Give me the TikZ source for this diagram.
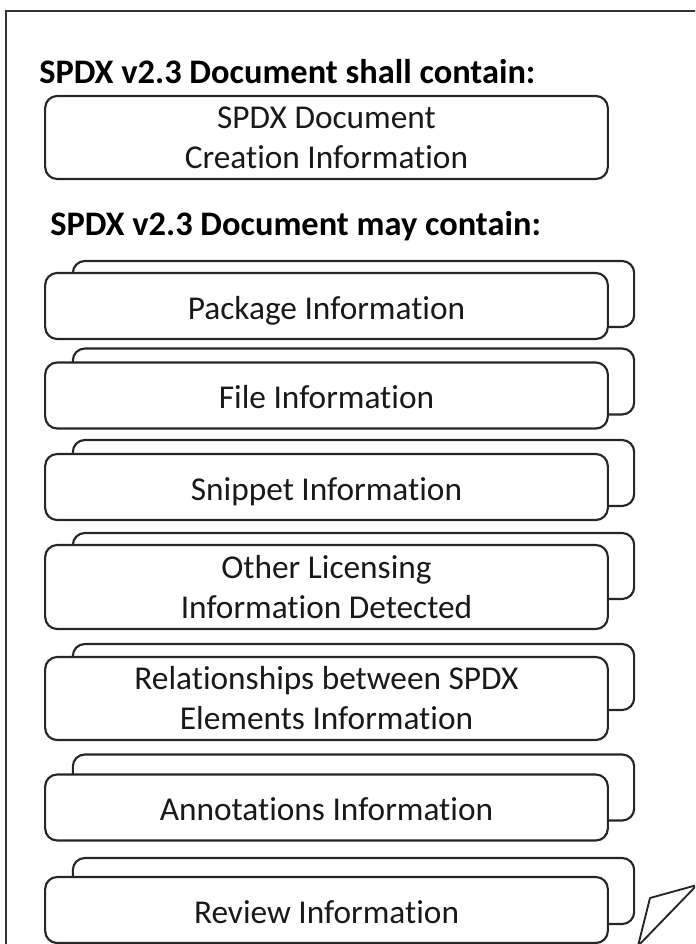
\documentclass[tikz,border=0pt]{standalone}
\usepackage{fontspec}
\setmainfont{Carlito}[Ligatures=NoCommon]
\begin{document}
\begin{tikzpicture}[x=0.75pt,y=-0.75pt]
\useasboundingbox (0,0) rectangle (695,944);
\clip (0,0) rectangle (695,944);
\tikzset{
  frontbox/.style={draw=black!85, line width=1.6pt, rounded corners=9pt, fill=white,
    minimum width=422pt, minimum height=49.5pt, inner sep=0pt, align=center,
    font=\fontsize{25}{30}\selectfont, text=black!90},
  oneline/.style={text height=23pt, text depth=3pt},
  backbox/.style={draw=black!85, line width=1.6pt, rounded corners=9pt, fill=white,
    minimum width=421pt, minimum height=49.5pt, inner sep=0pt},
  heading/.style={font=\bfseries\fontsize{25.8}{30}\selectfont, anchor=base west, inner sep=0pt, text=black},
  framel/.style={draw=black!80, line width=1.5pt}
}
% outer page frame
\coordinate (fbl) at (6,990);
\coordinate (ftl) at (6,11);
\coordinate (ftr) at (720,11);
\draw[framel] (fbl) -- (ftl) -- (ftr);
% headings
\node[heading] (h1) at (39,84) {SPDX v2.3 Document shall contain:};
\node[heading] (h2) at (50,236) {SPDX v2.3 Document may contain:};
% shall contain
\node[frontbox, minimum height=62.25pt] (create) at (326.5,137.5) {SPDX Document\\Creation Information};
% may contain stacks
\node[backbox] (packb) at (353.5,294) {};
\node[frontbox, oneline] (pack) at (326.5,306) {Package Information};
\node[backbox] (fileb) at (353.5,381.5) {};
\node[frontbox, oneline] (file) at (326.5,395.5) {File Information};
\node[backbox] (snipb) at (353.5,473) {};
\node[frontbox, oneline] (snip) at (326.5,487) {Snippet Information};
\node[backbox] (othb) at (353.5,566) {};
\node[frontbox, minimum height=63pt] (oth) at (326.5,587) {Other Licensing\\Information Detected};
\node[backbox] (relb) at (353.5,677) {};
\node[frontbox, minimum height=62.25pt] (rel) at (326.5,698.5) {Relationships between SPDX\\Elements Information};
\node[backbox] (annb) at (353.5,787.5) {};
\node[frontbox, oneline] (ann) at (326.5,807.5) {Annotations Information};
\node[backbox] (revb) at (353.5,891) {};
\node[frontbox, oneline] (rev) at (326.5,910) {Review Information};
% page curl
\coordinate (c1) at (638,946);
\coordinate (c2) at (650,898);
\coordinate (c3) at (697,885);
\draw[draw=black!85, line width=1.4pt, line join=round] (c1) -- (c2) -- (c3) -- cycle;
\end{tikzpicture}
\end{document}
